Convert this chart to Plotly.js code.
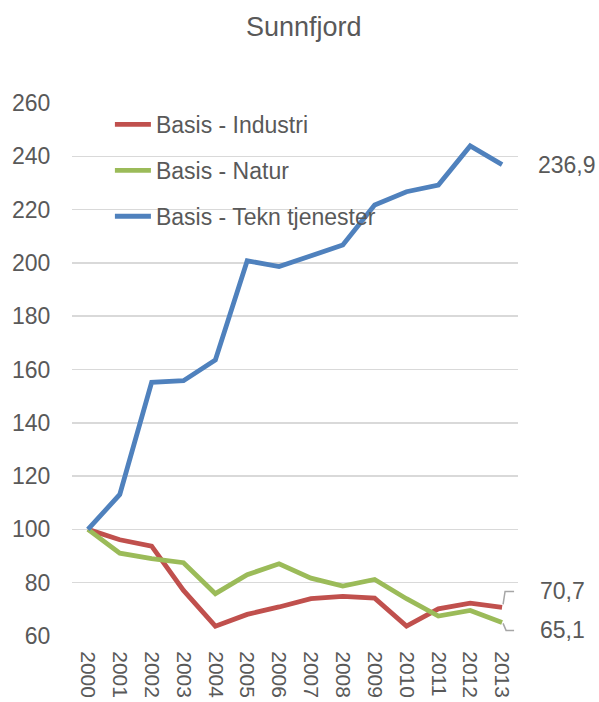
<!DOCTYPE html>
<html>
<head>
<meta charset="utf-8">
<script src="https://cdn.plot.ly/plotly-3.0.1.min.js"></script>
<style>html,body{margin:0;padding:0;background:#fff;}#chart{width:599px;height:702px;}</style>
</head>
<body>
<div id="chart"></div>
<script>
const years = ['2000','2001','2002','2003','2004','2005','2006','2007','2008','2009','2010','2011','2012','2013'];
const industri = [100, 96.1, 93.7, 77.1, 63.7, 68.1, 70.9, 74.0, 74.9, 74.2, 63.7, 70.2, 72.3, 70.7];
const natur = [100, 91.1, 89.0, 87.5, 75.9, 83.0, 87.1, 81.7, 78.7, 81.2, 74.0, 67.5, 69.6, 65.1];
const tekn = [100, 113.1, 155.2, 155.8, 163.6, 200.8, 198.6, 202.7, 206.7, 221.7, 226.7, 229.2, 243.9, 236.9];
const seriesNames = ['Basis - Industri', 'Basis - Natur', 'Basis - Tekn tjenester'];
const yTicks = [60, 80, 100, 120, 140, 160, 180, 200, 220, 240, 260];

const txt = '#595959';
const font = 'Liberation Sans, Arial, sans-serif';
const last = years.length - 1;
const fmt = v => v.toFixed(1).replace('.', ',');

const traces = [
  {x: years, y: industri, name: seriesNames[0], color: '#C0504D'},
  {x: years, y: natur, name: seriesNames[1], color: '#9BBB59'},
  {x: years, y: tekn, name: seriesNames[2], color: '#4F81BD'}
].map((s, i) => ({
  type: 'scatter', mode: 'lines', x: s.x, y: s.y, name: s.name,
  legendgroup: 'g' + i,
  line: {color: s.color, width: 4.8},
  hoverinfo: 'skip'
}));

const layout = {
  width: 599, height: 702,
  margin: {l: 72, r: 81, t: 103, b: 66},
  paper_bgcolor: '#fff', plot_bgcolor: '#fff',
  font: {family: font, color: txt, size: 23},
  title: {text: 'Sunnfjord', x: 0.507, xref: 'container', y: 0.962, yanchor: 'middle',
          font: {family: font, size: 27, color: txt}},
  xaxis: {type: 'category', showgrid: false, zeroline: false, showline: false,
          ticks: 'outside', ticklen: 10, tickcolor: 'rgba(0,0,0,0)', tickangle: 90,
          tickfont: {size: 21, color: txt},
          range: [-0.5, last + 0.5], fixedrange: true},
  yaxis: {range: [60, 260], tickvals: yTicks, showgrid: true, gridcolor: '#D9D9D9', gridwidth: 1.5,
          zeroline: false, showline: false, ticks: 'outside', ticklen: 16, tickcolor: 'rgba(0,0,0,0)',
          tickfont: {size: 23, color: txt}, fixedrange: true},
  showlegend: true,
  legend: {x: 0.085, y: 1.0, xanchor: 'left', yanchor: 'top', bgcolor: 'rgba(0,0,0,0)',
           traceorder: 'grouped', tracegroupgap: 13, font: {size: 23, color: txt}, itemwidth: 36},
  annotations: [
    {x: last, y: tekn[last], text: fmt(tekn[last]), showarrow: false, xanchor: 'left', xshift: 34,
     font: {size: 23, color: txt}},
    {x: last, y: industri[last], text: fmt(industri[last]), showarrow: false, xanchor: 'left', xshift: 36, yshift: 16,
     font: {size: 23, color: txt}},
    {x: last, y: natur[last], text: fmt(natur[last]), showarrow: false, xanchor: 'left', xshift: 36, yshift: -8,
     font: {size: 23, color: txt}}
  ],
  shapes: [
    {type: 'path', xref: 'x', yref: 'y', xsizemode: 'pixel', ysizemode: 'pixel',
     xanchor: last, yanchor: industri[last], path: 'M1,3 L3,16 L12,16',
     line: {color: '#A6A6A6', width: 1.5}},
    {type: 'path', xref: 'x', yref: 'y', xsizemode: 'pixel', ysizemode: 'pixel',
     xanchor: last, yanchor: natur[last], path: 'M1,-1 L4,-8 L12,-8',
     line: {color: '#A6A6A6', width: 1.5}}
  ]
};

Plotly.newPlot('chart', traces, layout, {staticPlot: true, displayModeBar: false});
</script>
</body>
</html>
